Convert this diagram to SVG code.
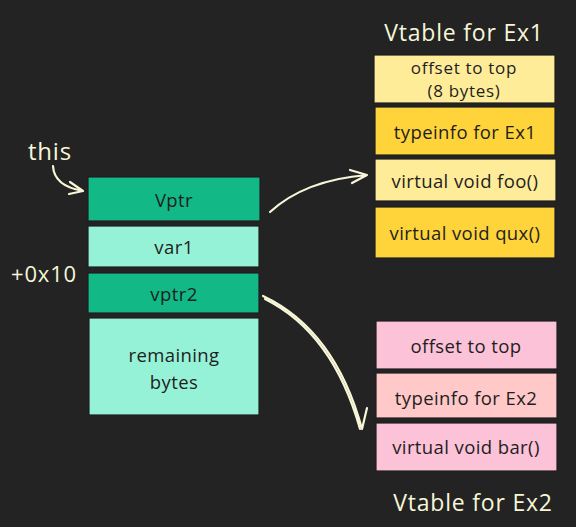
<svg xmlns="http://www.w3.org/2000/svg" width="576" height="527" viewBox="0 0 576 527">
<defs>
<style>
.bx{stroke:#1e1e1e;stroke-width:1.2}
.t{font-family:"Open Sans","Liberation Sans",sans-serif;font-size:18.5px;letter-spacing:0.4px;fill:#1e1e1e;text-anchor:middle;dominant-baseline:central}
.s{font-size:17px;letter-spacing:0.7px}
.lt{font-family:"Open Sans","Liberation Sans",sans-serif;fill:#f8f6d8;text-anchor:middle;dominant-baseline:central;letter-spacing:0.8px}
.ar{fill:none;stroke:#f8f6d8;stroke-width:2.2;stroke-linecap:round;stroke-linejoin:round}
</style>
</defs>
<rect width="576" height="527" fill="#232323"/>
<g id="this-label"><text class="lt" x="50" y="150" font-size="24">this</text></g>
<g id="offset-label"><text class="lt" x="44" y="273" font-size="22">+0x10</text></g>
<g id="vptr"><rect class="bx" x="88" y="177" width="172" height="44" fill="#12b886"/><text class="t" x="174" y="199">Vptr</text></g>
<g id="var1"><rect class="bx" x="88" y="226" width="171" height="41" fill="#96f2d7"/><text class="t" x="174" y="246">var1</text></g>
<g id="vptr2"><rect class="bx" x="88" y="273" width="171" height="40" fill="#12b886"/><text class="t" x="174" y="293">vptr2</text></g>
<g id="remaining"><rect class="bx" x="89" y="318" width="170" height="97" fill="#96f2d7"/><text class="t" x="174" y="354">remaining</text><text class="t" x="174" y="381">bytes</text></g>
<g id="title-ex1"><text class="lt" x="464" y="32" font-size="23">Vtable for Ex1</text></g>
<g id="ex1-offset"><rect class="bx" x="374" y="55" width="181" height="48" fill="#ffec99"/><text class="t s" x="464" y="67">offset to top</text><text class="t s" x="464" y="90">(8 bytes)</text></g>
<g id="ex1-typeinfo"><rect class="bx" x="375" y="107" width="180" height="48" fill="#ffd43b"/><text class="t" x="465" y="131">typeinfo for Ex1</text></g>
<g id="ex1-foo"><rect class="bx" x="375" y="159" width="181" height="42" fill="#ffec99"/><text class="t" x="465" y="180">virtual void foo()</text></g>
<g id="ex1-qux"><rect class="bx" x="375" y="207" width="180" height="51" fill="#ffd43b"/><text class="t" x="465" y="232">virtual void qux()</text></g>
<g id="ex2-offset"><rect class="bx" x="376" y="321" width="181" height="48" fill="#fcc2d7"/><text class="t" x="466" y="345">offset to top</text></g>
<g id="ex2-typeinfo"><rect class="bx" x="376" y="373" width="181" height="45" fill="#ffc9c9"/><text class="t" x="466" y="397">typeinfo for Ex2</text></g>
<g id="ex2-bar"><rect class="bx" x="376" y="423" width="181" height="48" fill="#fcc2d7"/><text class="t" x="466" y="446">virtual void bar()</text></g>
<g id="title-ex2"><text class="lt" x="473" y="502" font-size="23">Vtable for Ex2</text></g>
<g id="connectors">
<path class="ar" d="M53,166 Q54,186 83,191 M70,182 L83,191 L69,194"/>
<path class="ar" d="M270,212 Q305,180 367,175 M350,170 L367,175 L352,183"/>
<path class="ar" d="M263,296 Q335,330 362,429 M355,409 L362,429 L367,408"/>
<path class="ar" stroke-width="1.2" d="M265,299 Q333,333 360,429"/>
</g>
</svg>
